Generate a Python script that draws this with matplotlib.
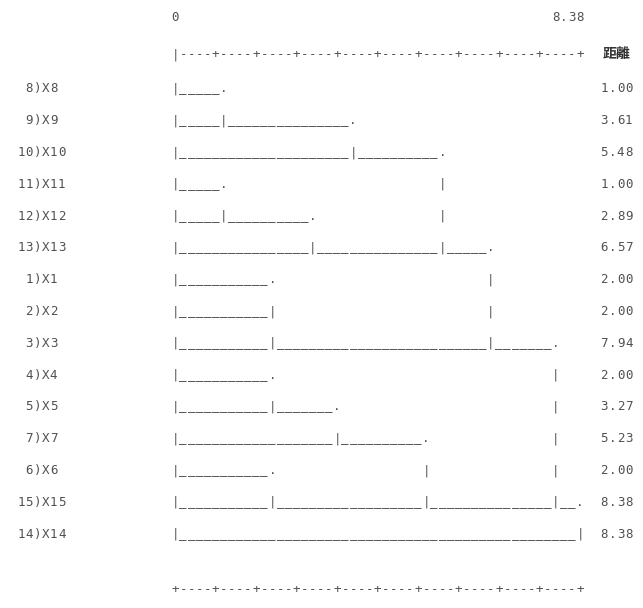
import matplotlib
matplotlib.use("Agg")
import matplotlib.pyplot as plt

# leaves in dendrogram order (top to bottom) and the distance printed on each row
leaf_ids = [8, 9, 10, 11, 12, 13, 1, 2, 3, 4, 5, 7, 6, 15, 14]
distances = [1.00, 3.61, 5.48, 1.00, 2.89, 6.57, 2.00, 2.00,
             7.94, 2.00, 3.27, 5.23, 2.00, 8.38, 8.38]
max_dist = 8.38
axis_label = "距離"

WIDTH = 50          # characters used by the tree
CHAR_PX = 8.1       # width of one text column in pixels
ROW_PX = 31.8       # height of one text row in pixels
X0_PX = 171         # left edge of tree column 0
Y0_PX = 88          # first row centre
COLOR = "#505050"
MONO = "DejaVu Sans Mono"


def tree_lines(dists):
    # build the text dendrogram row by row, keeping track of open connections
    lines = []
    open_cols = []
    for d in dists:
        end = round(d / max_dist * WIDTH)
        row = [" "] * (WIDTH + 1)
        row[0] = "|"
        for c in range(1, end):
            row[c] = "_"
        joined = [c for c in open_cols if c <= end]
        passing = [c for c in open_cols if c > end]
        for c in joined + passing:
            row[c] = "|"
        row[end] = "|" if end in joined else "."
        open_cols = passing + [end]
        lines.append("".join(row).rstrip())
    return lines


def put(ax, s, col, row, **kw):
    # draw a string one character per column so it behaves like a terminal grid
    for i, ch in enumerate(s):
        if ch != " ":
            ax.text(col + i + 0.5, row + 0.14, ch, ha="center", va="baseline",
                    family=MONO, fontsize=9, color=COLOR, **kw)


fig = plt.figure(figsize=(6.43, 6.08), dpi=100)
ax = fig.add_axes([0, 0, 1, 1])
ax.set_xlim(-X0_PX / CHAR_PX, (643 - X0_PX) / CHAR_PX)
ax.set_ylim((608 - Y0_PX) / ROW_PX, -Y0_PX / ROW_PX)
ax.axis("off")

row_of = lambda px: (px - Y0_PX) / ROW_PX

# header scale
put(ax, "0", 0, row_of(17))
max_txt = f"{max_dist:.2f}"
put(ax, max_txt, WIDTH + 1 - len(max_txt), row_of(17))
put(ax, "|" + "----+" * (WIDTH // 5), 0, row_of(54))
ax.text(53 + 2, row_of(54) + 0.14, axis_label, ha="center", va="baseline",
        family=["Noto Sans CJK TC", MONO], fontsize=10, color="#333333",
        fontweight="bold")

for i, (n, d, line) in enumerate(zip(leaf_ids, distances, tree_lines(distances))):
    put(ax, f"{n:>2d})X{n}", -19, i)
    put(ax, line, 0, i)
    put(ax, f"{d:.2f}", 53, i)

put(ax, "+" + "----+" * (WIDTH // 5), 0, row_of(589))

fig.savefig("out.png", dpi=100, facecolor="white")
